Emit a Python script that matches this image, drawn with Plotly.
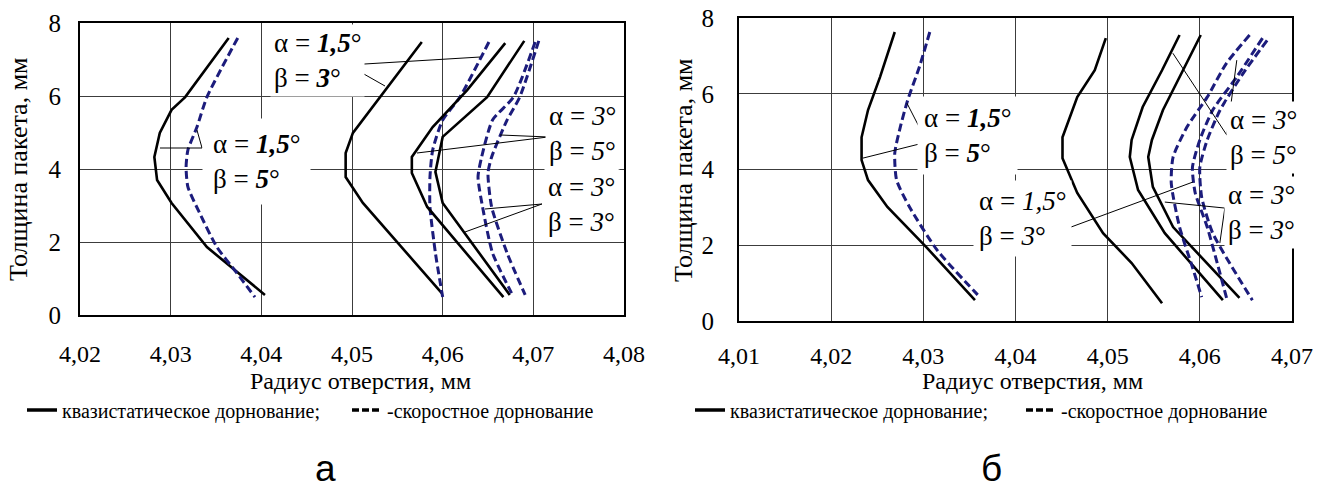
import plotly.graph_objects as go

W, H = 1320, 491
SERIF = "Liberation Serif, Times New Roman, Times, DejaVu Serif, serif"
SANS = "Liberation Sans, Arial, sans-serif"
NAVY = "#1c1c7c"

# ---------------- data: panel "а" ----------------
a_ticks = [4.02, 4.03, 4.04, 4.05, 4.06, 4.07, 4.08]
a_ticktext = ["4,02", "4,03", "4,04", "4,05", "4,06", "4,07", "4,08"]
y_ticks = [0, 2, 4, 6, 8]
y_ticktext = ["0", "2", "4", "6", "8"]

a_qs_15_5_r = [4.0364, 4.0316, 4.0301, 4.0288, 4.0282, 4.0285, 4.0301, 4.0340, 4.0404]
a_qs_15_5_h = [7.59, 5.97, 5.62, 4.99, 4.33, 3.70, 3.07, 1.86, 0.55]
a_hs_15_5_r = [4.0374, 4.0340, 4.0329, 4.0319, 4.0317, 4.0319, 4.0332, 4.0351, 4.0373, 4.0393]
a_hs_15_5_h = [7.59, 5.97, 5.15, 4.52, 4.05, 3.51, 2.79, 1.86, 1.15, 0.49]
a_qs_15_3_r = [4.0577, 4.0539, 4.0501, 4.0493, 4.0493, 4.0512, 4.0599]
a_qs_15_3_h = [7.48, 6.25, 4.99, 4.44, 3.78, 3.07, 0.60]
a_hs_15_3_r = [4.0651, 4.0619, 4.0600, 4.0589, 4.0586, 4.0586, 4.0592, 4.0600]
a_hs_15_3_h = [7.48, 5.97, 5.34, 4.52, 3.78, 2.96, 1.70, 0.49]
a_qs_3_5_r = [4.0669, 4.0627, 4.0589, 4.0566, 4.0566, 4.0583, 4.0667]
a_qs_3_5_h = [7.45, 6.16, 5.15, 4.33, 3.89, 2.96, 0.49]
a_qs_3_3_r = [4.0690, 4.0649, 4.0600, 4.0592, 4.0600, 4.0674]
a_qs_3_3_h = [7.51, 5.97, 4.88, 3.92, 3.07, 0.55]
a_hs_3_3_r = [4.0702, 4.0678, 4.0655, 4.0643, 4.0639, 4.0644, 4.0655, 4.0676]
a_hs_3_3_h = [7.48, 5.97, 5.34, 4.33, 3.78, 2.96, 1.70, 0.60]
a_hs_3_5_r = [4.0706, 4.0685, 4.0671, 4.0654, 4.0650, 4.0654, 4.0671, 4.0691]
a_hs_3_5_h = [7.51, 5.97, 5.34, 4.33, 3.89, 2.96, 1.70, 0.55]

# ---------------- data: panel "б" ----------------
b_ticks = [4.01, 4.02, 4.03, 4.04, 4.05, 4.06, 4.07]
b_ticktext = ["4,01", "4,02", "4,03", "4,04", "4,05", "4,06", "4,07"]

b_qs_15_5_r = [4.0269, 4.0253, 4.0240, 4.0233, 4.0233, 4.0240, 4.0261, 4.0285, 4.0304, 4.0356]
b_qs_15_5_h = [7.63, 6.44, 5.57, 4.85, 4.25, 3.72, 3.01, 2.40, 1.93, 0.55]
b_hs_15_5_r = [4.0307, 4.0296, 4.0283, 4.0275, 4.0269, 4.0271, 4.0285, 4.0315, 4.0359]
b_hs_15_5_h = [7.63, 6.73, 5.83, 5.12, 4.43, 3.72, 3.01, 1.87, 0.69]
b_qs_15_3_r = [4.0498, 4.0486, 4.0467, 4.0451, 4.0451, 4.0467, 4.0495, 4.0526, 4.0559]
b_qs_15_3_h = [7.47, 6.62, 5.91, 4.85, 4.30, 3.38, 2.32, 1.53, 0.47]
b_qs_3_5_r = [4.0578, 4.0559, 4.0538, 4.0526, 4.0524, 4.0533, 4.0562, 4.0625]
b_qs_3_5_h = [7.55, 6.62, 5.65, 4.78, 4.33, 3.46, 2.32, 0.55]
b_qs_3_3_r = [4.0601, 4.0582, 4.0560, 4.0548, 4.0544, 4.0549, 4.0571, 4.0643]
b_qs_3_3_h = [7.55, 6.62, 5.57, 4.78, 4.33, 3.54, 2.48, 0.61]
b_hs_15_3_r = [4.0654, 4.0629, 4.0608, 4.0586, 4.0571, 4.0569, 4.0578, 4.0592, 4.0602]
b_hs_15_3_h = [7.55, 6.81, 5.91, 5.12, 4.33, 3.64, 2.48, 1.42, 0.63]
b_hs_3_5_r = [4.0668, 4.0640, 4.0614, 4.0600, 4.0592, 4.0595, 4.0608, 4.0629]
b_hs_3_5_h = [7.47, 6.44, 5.57, 4.78, 4.06, 3.38, 2.48, 0.61]
b_hs_3_3_r = [4.0673, 4.0647, 4.0622, 4.0608, 4.0600, 4.0602, 4.0614, 4.0657]
b_hs_3_3_h = [7.41, 6.54, 5.57, 4.78, 4.06, 3.27, 2.32, 0.55]

# ---------------- labels and leader lines ----------------
labels_a = [
    (4.04129, 6.986, "α = <b><i>1,5</i></b>°<br>β = <b><i>3</i></b>°", 3),
    (4.03456, 4.219, "α = <b><i>1,5</i></b>°<br>β = <b><i>5</i></b>°", 10),
    (4.07162, 4.959, "α = <i>3</i>°<br>β = <i>5</i>°", 3),
    (4.07150, 3.014, "α = <i>3</i>°<br>β = <i>3</i>°", 3),
]
leaders_a = [
    [(4.06412, 7.068), (4.04956, 6.849), (4.05364, 6.274)],
    [(4.02882, 4.575), (4.03346, 4.575), (4.03290, 5.068)],
    [(4.06632, 4.932), (4.07162, 4.877), (4.05717, 4.438)],
    [(4.06467, 2.904), (4.07095, 3.041), (4.06246, 2.274)],
]
labels_b = [
    (4.02996, 4.908, "α = <b><i>1,5</i></b>°<br>β = <b><i>5</i></b>°", 6),
    (4.03592, 2.718, "α = <i>1,5</i>°<br>β = <i>3</i>°", 5),
    (4.06315, 4.855, "α = <i>3</i>°<br>β = <i>5</i>°", 3),
    (4.06293, 2.876, "α = <i>3</i>°<br>β = <i>3</i>°", 3),
]
leaders_b = [
    [(4.02822, 5.752), (4.03039, 4.723), (4.02345, 4.301)],
    [(4.04590, 3.377), (4.04514, 2.401), (4.05924, 3.668)],
    [(4.05707, 7.071), (4.06293, 4.908), (4.06401, 6.887)],
    [(4.05620, 3.140), (4.06271, 2.982), (4.06217, 2.058)],
]

legend_qs = "квазистатическое дорнование;"
legend_hs = "-скоростное дорнование"
x_title = "Радиус отверстия, мм"
y_title = "Толщина пакета, мм"

fig = go.Figure()

def px_x(p):
    return p / W

def px_y(p):
    return 1 - p / H

solid = dict(color="black", width=2.6)
dashed = dict(color=NAVY, width=3, dash="8px,4px", shape="spline", smoothing=0.6)

panel_a = [
    (a_qs_15_5_r, a_qs_15_5_h, solid), (a_hs_15_5_r, a_hs_15_5_h, dashed),
    (a_qs_15_3_r, a_qs_15_3_h, solid), (a_hs_15_3_r, a_hs_15_3_h, dashed),
    (a_qs_3_5_r, a_qs_3_5_h, solid), (a_qs_3_3_r, a_qs_3_3_h, solid),
    (a_hs_3_3_r, a_hs_3_3_h, dashed), (a_hs_3_5_r, a_hs_3_5_h, dashed),
]
panel_b = [
    (b_qs_15_5_r, b_qs_15_5_h, solid), (b_hs_15_5_r, b_hs_15_5_h, dashed),
    (b_qs_15_3_r, b_qs_15_3_h, solid), (b_qs_3_5_r, b_qs_3_5_h, solid),
    (b_qs_3_3_r, b_qs_3_3_h, solid), (b_hs_15_3_r, b_hs_15_3_h, dashed),
    (b_hs_3_5_r, b_hs_3_5_h, dashed), (b_hs_3_3_r, b_hs_3_3_h, dashed),
]
for xs, ys, ln in panel_a:
    fig.add_trace(go.Scatter(x=xs, y=ys, mode="lines", line=ln, showlegend=False,
                             hoverinfo="skip", xaxis="x", yaxis="y"))
for xs, ys, ln in panel_b:
    fig.add_trace(go.Scatter(x=xs, y=ys, mode="lines", line=ln, showlegend=False,
                             hoverinfo="skip", xaxis="x2", yaxis="y2"))

# legend entries (one legend per panel)
for lg, xa, ya in (("legend", "x", "y"), ("legend2", "x2", "y2")):
    fig.add_trace(go.Scatter(x=[None], y=[None], mode="lines", name=legend_qs,
                             line=dict(color="black", width=3.5), legend=lg, xaxis=xa, yaxis=ya))
    fig.add_trace(go.Scatter(x=[None], y=[None], mode="lines", name=legend_hs,
                             line=dict(color="black", width=3.5, dash="7px,3px"),
                             legend=lg, xaxis=xa, yaxis=ya))

shapes = []
annotations = []
for (lbls, leads, xr, yr) in ((labels_a, leaders_a, "x", "y"), (labels_b, leaders_b, "x2", "y2")):
    for pts in leads:
        for (x0, y0), (x1, y1) in zip(pts[:-1], pts[1:]):
            shapes.append(dict(type="line", xref=xr, yref=yr, x0=x0, y0=y0, x1=x1, y1=y1,
                               line=dict(color="black", width=1), layer="above"))
    for x, y, t, pad in lbls:
        annotations.append(dict(x=x, y=y, xref=xr, yref=yr, text=t, showarrow=False,
                                xanchor="left", yanchor="middle", align="left",
                                xshift=-pad, bgcolor="white", borderpad=pad,
                                font=dict(family=SERIF, size=27, color="black")))

# axis titles and panel letters
for cx, cy, yx, yy, letter, lx in ((360, 381, 18, 169, "а", 325),
                                   (1032, 381, 684, 170, "б", 992)):
    annotations.append(dict(x=px_x(cx), y=px_y(cy), xref="paper", yref="paper", text=x_title,
                            showarrow=False, xanchor="center", yanchor="middle",
                            font=dict(family=SERIF, size=24, color="black")))
    annotations.append(dict(x=px_x(yx), y=px_y(yy), xref="paper", yref="paper", text=y_title,
                            showarrow=False, xanchor="center", yanchor="middle", textangle=-90,
                            font=dict(family=SERIF, size=26, color="black")))
    annotations.append(dict(x=px_x(lx), y=0, xref="paper", yref="paper", text=letter,
                            showarrow=False, xanchor="center", yanchor="bottom",
                            font=dict(family=SANS, size=37, color="black")))

axis_common = dict(showline=True, mirror=True, linecolor="black", linewidth=2,
                   showgrid=True, gridcolor="#3c3c3c", gridwidth=1, zeroline=False,
                   ticks="", fixedrange=True, automargin=False)
xtickfont = dict(family=SERIF, size=24, color="black")
ytickfont = dict(family=SERIF, size=25, color="black")

legend_common = dict(orientation="h", yanchor="middle", y=px_y(410), xanchor="left",
                     font=dict(family=SERIF, size=20, color="black"), bgcolor="rgba(0,0,0,0)",
                     entrywidthmode="pixels", borderwidth=0, itemclick=False)

fig.update_layout(
    width=W, height=H, autosize=False,
    margin=dict(l=0, r=0, t=0, b=0, autoexpand=False),
    paper_bgcolor="white", plot_bgcolor="white",
    xaxis=dict(domain=[px_x(80), px_x(624)], range=[4.02, 4.08], tickvals=a_ticks,
               ticktext=a_ticktext, anchor="y", ticklabelstandoff=16, tickfont=xtickfont,
               **axis_common),
    yaxis=dict(domain=[px_y(315), px_y(23)], range=[0, 8], tickvals=y_ticks,
               ticktext=y_ticktext, anchor="x", ticklabelstandoff=12, tickfont=ytickfont,
               **axis_common),
    xaxis2=dict(domain=[px_x(739), px_x(1292)], range=[4.01, 4.07], tickvals=b_ticks,
                ticktext=b_ticktext, anchor="y2", ticklabelstandoff=12, tickfont=xtickfont,
                **axis_common),
    yaxis2=dict(domain=[px_y(321), px_y(18)], range=[0, 8], tickvals=y_ticks,
                ticktext=y_ticktext, anchor="x2", ticklabelstandoff=18, tickfont=ytickfont,
                **axis_common),
    legend=dict(x=px_x(22), entrywidth=280, **legend_common),
    legend2=dict(x=px_x(690), entrywidth=286, **legend_common),
    shapes=shapes,
    annotations=annotations,
)

fig.write_html("out.html", post_script="document.body.style.margin='0px';",
               config={"displayModeBar": False})
